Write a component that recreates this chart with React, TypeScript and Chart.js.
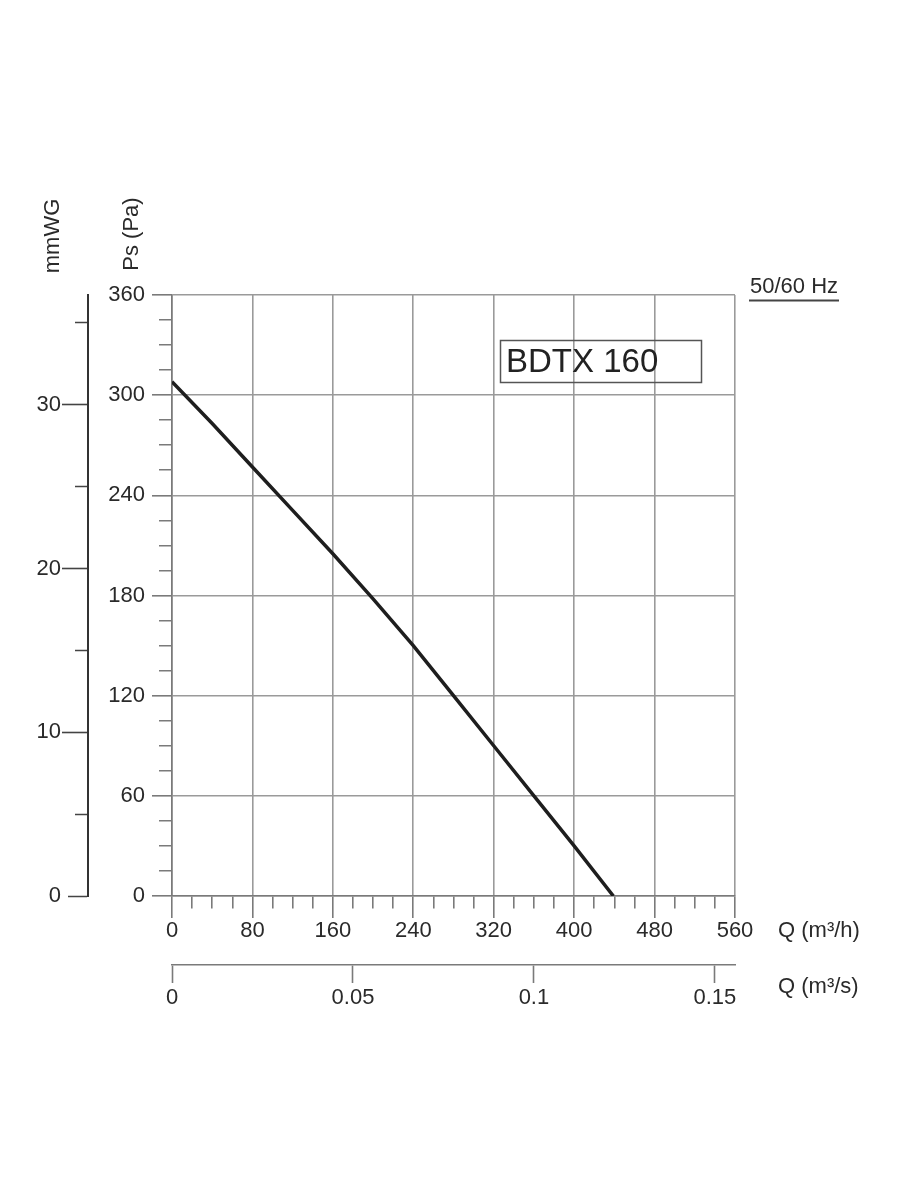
import { useEffect, useRef } from "react";
import { Chart, registerables } from "chart.js";

Chart.register(...registerables);

// ---- data ----
const flowM3h = [0, 40, 80, 120, 160, 200, 240, 280, 320, 360, 400, 439];
const staticPa = [308, 283, 257, 231, 205, 178, 150, 120, 90, 60, 30, 0];
const mmwgTicks = [0, 5, 10, 15, 20, 25, 30, 35];
const mmwgMajor = [0, 10, 20, 30];
const flowM3sTicks = [0, 0.05, 0.1, 0.15];
const paMax = 360;
const flowMax = 560;
const PA_PER_MMWG = 9.80665;

const modelName = "BDTX 160";
const frequencyLabel = "50/60 Hz";
const mmwgTitle = "mmWG";
const paTitle = "Ps (Pa)";
const flowHTitle = "Q (m³/h)";
const flowSTitle = "Q (m³/s)";

const FONT = '"Liberation Sans", Arial, Helvetica, sans-serif';
const GRID = "#9a9a9a";
const AXIS = "#7a7a7a";
const TEXT = "#2a2a2a";

const textPlugin = {
  id: "chartTexts",
  afterDraw(chart: any) {
    const ctx = chart.ctx as CanvasRenderingContext2D;
    const area = chart.chartArea;
    ctx.save();
    ctx.fillStyle = TEXT;
    ctx.font = `22px ${FONT}`;
    ctx.textAlign = "center";
    ctx.textBaseline = "middle";
    // rotated axis titles
    ctx.save();
    ctx.translate(53, 236);
    ctx.rotate(-Math.PI / 2);
    ctx.fillText(mmwgTitle, 0, 0);
    ctx.restore();
    ctx.save();
    ctx.translate(132, 234);
    ctx.rotate(-Math.PI / 2);
    ctx.fillText(paTitle, 0, 0);
    ctx.restore();

    // flow axis titles
    ctx.textAlign = "left";
    ctx.fillText(flowHTitle, area.right + 43, 931);
    ctx.fillText(flowSTitle, area.right + 43, 987);

    // frequency label with underline
    ctx.textBaseline = "alphabetic";
    ctx.fillText(frequencyLabel, area.right + 15, 293);
    ctx.strokeStyle = "#444";
    ctx.lineWidth = 2;
    ctx.beginPath();
    ctx.moveTo(area.right + 14, 300.5);
    ctx.lineTo(area.right + 104, 300.5);
    ctx.stroke();

    // model box
    ctx.strokeStyle = "#555";
    ctx.lineWidth = 1.5;
    ctx.strokeRect(500.5, 340.5, 201, 42);
    ctx.font = `33px ${FONT}`;
    ctx.fillStyle = "#222";
    ctx.fillText(modelName, 506, 372);
    ctx.restore();
  },
};

export default function App() {
  const canvasRef = useRef<HTMLCanvasElement | null>(null);

  useEffect(() => {
    const canvas = canvasRef.current;
    if (!canvas) return;
    const tickFont = { family: FONT, size: 22 };

    const chart = new Chart(canvas, {
      type: "line",
      data: {
        datasets: [
          {
            data: flowM3h.map((q, i) => ({ x: q, y: staticPa[i] })),
            borderColor: "#1e1e1e",
            borderWidth: 3.5,
            pointRadius: 0,
            tension: 0,
            fill: false,
            xAxisID: "x",
            yAxisID: "y",
          },
        ],
      },
      plugins: [textPlugin],
      options: {
        responsive: false,
        animation: false,
        devicePixelRatio: 1,
        layout: { padding: { left: 0, top: 295, right: 165, bottom: 175 } },
        plugins: { legend: { display: false }, tooltip: { enabled: false } },
        scales: {
          x: {
            type: "linear",
            position: "bottom",
            weight: 0,
            min: 0,
            max: flowMax,
            ticks: {
              stepSize: 20,
              autoSkip: false,
              maxRotation: 0,
              padding: 0,
              color: TEXT,
              font: tickFont,
              callback: (v: any) => (Number(v) % 80 === 0 ? String(v) : ""),
            },
            grid: {
              color: (c: any) => (c.tick && c.tick.value % 80 === 0 ? GRID : "rgba(0,0,0,0)"),
              lineWidth: 1.6,
              tickLength: 22,
              tickColor: AXIS,
              tickWidth: 1.6,
              tickBorderDash: (c: any) => (c.tick && c.tick.value % 80 === 0 ? [] : [12, 100]),
            },
            border: { color: AXIS, width: 1.6 },
            afterFit: (s: any) => {
              s.height = 69;
            },
          },
          xs: {
            type: "linear",
            position: "bottom",
            weight: 1,
            min: 0,
            max: flowMax / 3600,
            afterBuildTicks: (s: any) => {
              s.ticks = flowM3sTicks.map((v) => ({ value: v }));
            },
            ticks: {
              autoSkip: false,
              maxRotation: 0,
              padding: 2,
              color: TEXT,
              font: tickFont,
              callback: (v: any) => String(v),
            },
            grid: {
              drawOnChartArea: false,
              tickLength: 18,
              tickColor: AXIS,
              tickWidth: 1.6,
            },
            border: { color: AXIS, width: 1.6 },
            afterFit: (s: any) => {
              s.height = 60;
            },
          },
          y: {
            type: "linear",
            position: "left",
            weight: 0,
            min: 0,
            max: paMax,
            ticks: {
              stepSize: 15,
              autoSkip: false,
              padding: 7,
              color: TEXT,
              font: tickFont,
              callback: (v: any) => (Number(v) % 60 === 0 ? String(v) : ""),
            },
            grid: {
              color: (c: any) => (c.tick && c.tick.value % 60 === 0 ? GRID : "rgba(0,0,0,0)"),
              lineWidth: 1.6,
              tickLength: 20,
              tickColor: AXIS,
              tickWidth: 1.6,
              tickBorderDash: (c: any) => (c.tick && c.tick.value % 60 === 0 ? [] : [0, 7, 13, 100]),
            },
            border: { color: AXIS, width: 1.6 },
            afterFit: (s: any) => {
              s.width = 84;
            },
          },
          ymm: {
            type: "linear",
            position: "left",
            weight: 1,
            min: 0,
            max: paMax / PA_PER_MMWG,
            afterBuildTicks: (s: any) => {
              s.ticks = mmwgTicks.map((v) => ({ value: v }));
            },
            ticks: {
              autoSkip: false,
              padding: 1,
              color: TEXT,
              font: tickFont,
              callback: (v: any) => (mmwgMajor.includes(Number(v)) ? String(v) : ""),
            },
            grid: {
              drawOnChartArea: false,
              tickLength: 26,
              tickColor: "#444",
              tickWidth: 1.6,
              tickBorderDash: (c: any) => {
                const v = c.tick ? c.tick.value : 0;
                if (v === 0) return [0, 6, 20, 100];
                return mmwgMajor.includes(v) ? [] : [0, 13, 13, 100];
              },
            },
            border: { color: "#333", width: 2 },
            afterFit: (s: any) => {
              s.width = 88;
            },
          },
        },
      },
    } as any);

    return () => chart.destroy();
  }, []);

  return (
    <div style={{ position: "absolute", left: 0, top: 0, width: 900, height: 1200, background: "#fff" }}>
      <canvas ref={canvasRef} width={900} height={1200} style={{ width: 900, height: 1200, display: "block" }} />
    </div>
  );
}
